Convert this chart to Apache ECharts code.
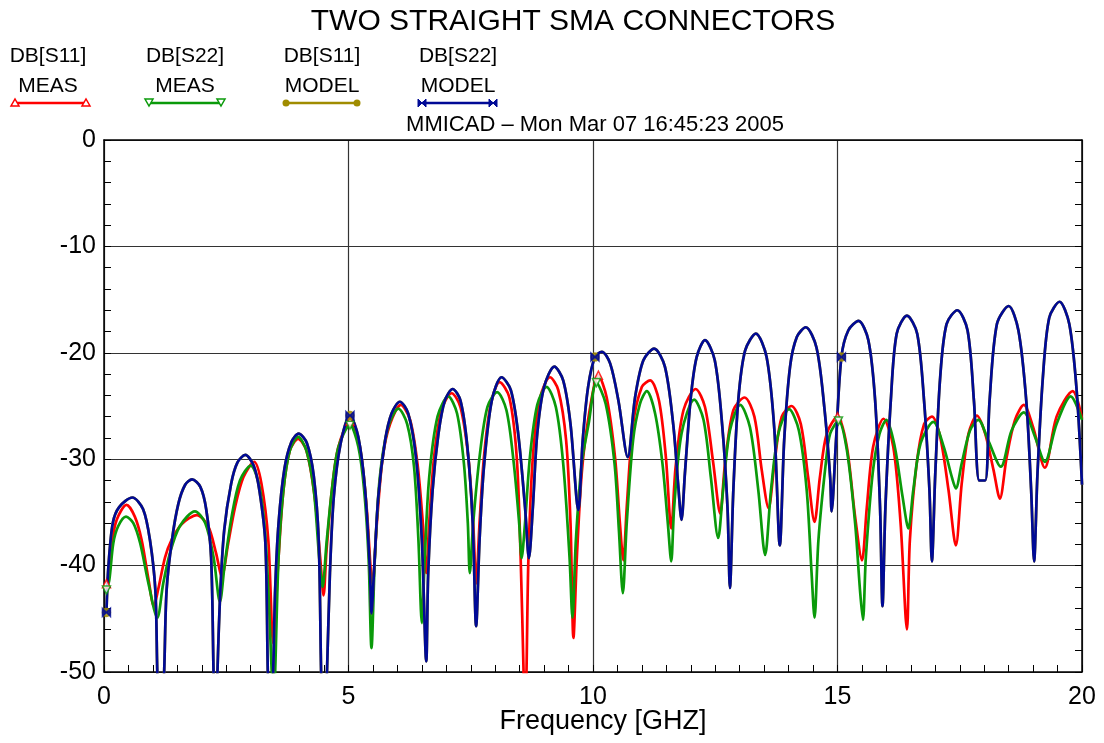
<!DOCTYPE html>
<html><head><meta charset="utf-8">
<script src="https://cdn.jsdelivr.net/npm/echarts@6/dist/echarts.min.js"></script>
<style>html,body{margin:0;padding:0;background:#fff}#c{width:1104px;height:743px}</style>
</head><body><div id="c"></div>
<script>
// ---- data (frequency GHz, dB) ----
const xTickValues = [0, 5, 10, 15, 20];
const yTickValues = [0, -10, -20, -30, -40, -50];
const seriesNames = ['DB[S11] MEAS', 'DB[S22] MEAS', 'DB[S11] MODEL', 'DB[S22] MODEL'];
const markerFreqs = [0.05, 5.08, 10.08, 15.08];

const s11Meas = [[0.05,-41.7],[0.09,-41.0],[0.16,-37.9],[0.26,-35.7],[0.46,-34.3],[0.63,-35.4],[0.77,-37.6],[0.91,-41.3],[1.02,-43.8],[1.11,-42.2],[1.25,-39.2],[1.38,-37.6],[1.59,-36.1],[1.9,-35.25],[2.13,-36.3],[2.29,-38.8],[2.41,-41.0],[2.54,-37.9],[2.68,-34.5],[2.85,-31.7],[3.07,-30.25],[3.22,-32.3],[3.36,-37.6],[3.46,-47.3],[3.57,-39.2],[3.67,-32.9],[3.8,-29.2],[3.97,-28.1],[4.14,-29.2],[4.31,-33.6],[4.42,-39.2],[4.49,-42.8],[4.55,-38.6],[4.66,-32.9],[4.79,-28.9],[5.03,-26.4],[5.23,-28.8],[5.37,-34.5],[5.49,-41.7],[5.58,-36.0],[5.7,-29.8],[5.85,-26.7],[6.07,-24.9],[6.26,-26.3],[6.41,-30.4],[6.52,-36.0],[6.59,-40.7],[6.65,-36.0],[6.75,-29.8],[6.9,-25.4],[7.11,-23.8],[7.29,-25.1],[7.45,-29.8],[7.55,-36.0],[7.61,-41.7],[7.68,-36.0],[7.77,-29.8],[7.91,-24.8],[8.09,-22.75],[8.29,-24.2],[8.44,-29.8],[8.52,-39.2],[8.58,-50],[8.61,-56],[8.64,-50],[8.68,-39.2],[8.77,-29.8],[8.92,-24.2],[9.12,-22.3],[9.29,-23.5],[9.45,-28.2],[9.54,-36.0],[9.6,-46.8],[9.67,-39.2],[9.77,-31.3],[9.91,-26.0],[10.11,-22.1],[10.28,-24.2],[10.45,-29.8],[10.55,-36.0],[10.62,-39.5],[10.69,-34.5],[10.82,-26.7],[11.0,-23.2],[11.17,-22.6],[11.35,-24.5],[11.49,-29.8],[11.6,-36.5],[11.69,-30.7],[11.85,-25.4],[12.1,-23.4],[12.29,-25.1],[12.46,-30.4],[12.6,-35.1],[12.7,-30.4],[12.87,-25.4],[13.1,-24.2],[13.3,-26.0],[13.45,-31.0],[13.59,-34.6],[13.71,-30.4],[13.86,-26.0],[14.06,-25.0],[14.25,-26.7],[14.4,-31.7],[14.53,-35.9],[14.64,-31.7],[14.78,-27.6],[15.0,-26.0],[15.19,-28.8],[15.36,-35.4],[15.5,-39.5],[15.6,-34.5],[15.73,-28.8],[15.94,-26.2],[16.14,-28.8],[16.29,-36.0],[16.42,-46.0],[16.48,-37.6],[16.62,-30.4],[16.77,-26.7],[16.93,-26.0],[17.1,-27.9],[17.27,-32.9],[17.42,-38.1],[17.54,-32.3],[17.68,-27.6],[17.85,-25.9],[18.02,-27.6],[18.19,-31.0],[18.32,-33.7],[18.46,-29.8],[18.63,-26.3],[18.81,-24.9],[19.0,-27.0],[19.24,-30.8],[19.48,-26.0],[19.81,-23.6],[20.0,-26.2]];

const s22Meas = [[0.05,-42.3],[0.11,-41.3],[0.19,-37.9],[0.29,-36.3],[0.45,-35.4],[0.6,-36.0],[0.74,-37.9],[0.91,-41.7],[1.09,-44.9],[1.21,-41.7],[1.35,-38.8],[1.55,-36.3],[1.86,-34.9],[2.07,-36.0],[2.24,-39.2],[2.37,-43.4],[2.47,-39.8],[2.61,-35.4],[2.78,-32.0],[3.0,-30.6],[3.18,-32.6],[3.31,-37.9],[3.43,-50],[3.46,-54],[3.5,-50],[3.57,-39.2],[3.67,-32.9],[3.8,-29.2],[3.97,-27.9],[4.14,-29.2],[4.29,-32.9],[4.4,-39.2],[4.47,-42.0],[4.55,-37.9],[4.66,-32.9],[4.79,-28.9],[5.03,-26.8],[5.2,-28.8],[5.32,-32.9],[5.41,-39.2],[5.47,-47.75],[5.54,-39.2],[5.64,-31.7],[5.81,-27.0],[6.02,-25.25],[6.2,-26.7],[6.34,-30.7],[6.43,-37.6],[6.5,-45.4],[6.56,-39.2],[6.65,-31.7],[6.82,-26.0],[7.04,-24.1],[7.22,-25.7],[7.36,-30.4],[7.44,-36.0],[7.48,-40.7],[7.55,-36.0],[7.68,-29.8],[7.84,-25.1],[8.04,-23.7],[8.23,-25.4],[8.38,-30.4],[8.49,-36.0],[8.54,-39.3],[8.61,-36.0],[8.71,-29.8],[8.86,-24.9],[9.05,-23.2],[9.24,-25.1],[9.39,-30.4],[9.52,-39.2],[9.58,-44.9],[9.65,-37.6],[9.77,-30.4],[9.91,-26.7],[10.07,-22.8],[10.26,-24.8],[10.44,-30.4],[10.53,-36.7],[10.61,-42.6],[10.69,-36.0],[10.82,-28.2],[10.96,-24.8],[11.1,-23.6],[11.27,-25.7],[11.42,-30.4],[11.53,-36.0],[11.6,-39.6],[11.66,-34.5],[11.81,-27.6],[12.07,-24.4],[12.26,-26.3],[12.41,-31.7],[12.56,-37.4],[12.66,-32.9],[12.8,-27.3],[13.01,-24.9],[13.21,-27.0],[13.38,-32.9],[13.52,-39.0],[13.64,-32.9],[13.79,-27.6],[14.01,-25.3],[14.21,-27.3],[14.37,-32.9],[14.47,-40.7],[14.53,-44.9],[14.61,-37.6],[14.76,-30.4],[14.85,-27.6],[15.02,-26.4],[15.19,-29.1],[15.36,-36.0],[15.46,-42.3],[15.52,-45.1],[15.58,-39.2],[15.72,-31.3],[15.86,-27.6],[16.0,-26.3],[16.17,-28.8],[16.33,-33.5],[16.45,-36.5],[16.55,-32.9],[16.7,-28.5],[16.96,-26.5],[17.17,-28.8],[17.34,-31.7],[17.42,-32.75],[17.54,-30.4],[17.71,-27.3],[17.88,-26.3],[18.08,-28.2],[18.34,-30.7],[18.56,-27.3],[18.81,-25.6],[19.04,-27.9],[19.24,-30.25],[19.48,-26.7],[19.77,-24.1],[20.0,-26.3]];

const s22Model = [[0.05,-44.4],[0.09,-40.1],[0.18,-36.0],[0.31,-34.5],[0.58,-33.6],[0.8,-34.7],[0.94,-37.6],[1.05,-42.3],[1.09,-50],[1.15,-58],[1.23,-50],[1.28,-42.3],[1.39,-37.6],[1.52,-34.2],[1.66,-32.4],[1.8,-31.9],[1.97,-32.6],[2.09,-34.7],[2.19,-39.2],[2.24,-50],[2.28,-58],[2.32,-50],[2.38,-42.3],[2.46,-36.6],[2.6,-32.3],[2.73,-30.3],[2.89,-29.6],[3.06,-30.6],[3.18,-33.0],[3.3,-37.9],[3.35,-50],[3.4,-58],[3.46,-50],[3.5,-42.3],[3.57,-36.0],[3.69,-30.9],[3.83,-28.4],[3.98,-27.6],[4.15,-28.5],[4.29,-31.6],[4.39,-37.6],[4.44,-50],[4.49,-58],[4.56,-50],[4.62,-40.7],[4.7,-33.5],[4.84,-28.5],[5.03,-25.9],[5.2,-27.9],[5.34,-32.9],[5.44,-40.7],[5.47,-44.5],[5.52,-40.7],[5.61,-33.5],[5.75,-28.2],[5.88,-25.7],[6.05,-24.6],[6.22,-25.7],[6.38,-29.8],[6.5,-37.6],[6.59,-49],[6.63,-40.7],[6.72,-32.9],[6.84,-27.6],[6.97,-24.5],[7.13,-23.4],[7.29,-24.5],[7.43,-28.8],[7.54,-36.0],[7.61,-45.7],[7.68,-37.6],[7.77,-30.7],[7.93,-24.5],[8.13,-22.3],[8.32,-23.5],[8.47,-27.6],[8.61,-34.5],[8.69,-39.3],[8.77,-34.5],[8.86,-27.6],[9.0,-23.2],[9.21,-21.3],[9.39,-22.6],[9.54,-26.7],[9.7,-34.8],[9.79,-28.2],[9.9,-23.2],[10.04,-20.4],[10.18,-19.9],[10.35,-21.0],[10.52,-24.5],[10.71,-29.8],[10.86,-24.2],[11.03,-20.7],[11.25,-19.6],[11.47,-21.3],[11.64,-26.7],[11.74,-32.3],[11.81,-35.7],[11.88,-31.3],[12.0,-24.2],[12.12,-20.4],[12.29,-18.8],[12.49,-20.7],[12.64,-26.7],[12.75,-34.5],[12.8,-42.1],[12.87,-32.9],[12.97,-24.5],[13.11,-19.8],[13.33,-18.2],[13.55,-20.4],[13.71,-27.3],[13.82,-38.1],[13.91,-28.2],[14.03,-21.3],[14.17,-18.5],[14.35,-17.6],[14.57,-19.5],[14.73,-25.1],[14.85,-31.7],[14.88,-34.9],[14.97,-28.2],[15.08,-20.4],[15.22,-17.9],[15.43,-17.0],[15.63,-18.8],[15.77,-24.5],[15.87,-34.5],[15.92,-43.8],[15.98,-34.5],[16.09,-24.5],[16.21,-18.2],[16.42,-16.5],[16.63,-18.2],[16.77,-24.5],[16.88,-32.9],[16.93,-39.6],[17.0,-31.3],[17.1,-22.3],[17.23,-17.3],[17.45,-16.0],[17.66,-17.9],[17.79,-24.5],[17.9,-32.0],[18.02,-32.0],[18.11,-24.5],[18.26,-17.3],[18.5,-15.6],[18.7,-17.9],[18.86,-24.5],[18.96,-32.9],[19.02,-39.6],[19.09,-31.3],[19.2,-22.3],[19.33,-16.7],[19.54,-15.2],[19.74,-17.3],[19.89,-23.5],[20.0,-32.4]];

// S11 model coincides with S22 model (hidden underneath it in the reference)
const s11Model = s22Model;

// ---- styling ----
const FONT = '"Liberation Sans", Arial, Helvetica, sans-serif';
const colors = ['#ff0000', '#0a9a0a', '#a08c00', '#000a96'];
const bowtie = 'path://M0 0L10 10L10 0L0 10Z';
const symbols = ['triangle', 'path://M0 0L10 0L5 10Z', 'circle', bowtie];
const symbolFills = ['#ffffff', '#ffffff', colors[2], colors[3]];
const dataSets = [s11Meas, s22Meas, s11Model, s22Model];

function nearest(arr, f) {
  let best = arr[0];
  for (const p of arr) if (Math.abs(p[0] - f) < Math.abs(best[0] - f)) best = p;
  return best;
}

const chart = echarts.init(document.getElementById('c'), null, {renderer: 'canvas'});

const lineSeries = dataSets.map((d, i) => ({
  name: seriesNames[i], type: 'line', data: d, showSymbol: false, symbol: 'none',
  smooth: 0.3, clip: true, silent: true, animation: false,
  lineStyle: {color: colors[i], width: 2.7}, z: 2 + i
}));
const markerSeries = dataSets.map((d, i) => ({
  type: 'scatter', data: markerFreqs.map(f => nearest(d, f)), symbol: symbols[i], symbolSize: 8,
  silent: true, animation: false, clip: false,
  itemStyle: {color: symbolFills[i], borderColor: colors[i], borderWidth: 1.5}, z: 10 + i
}));

// custom two-line legend
const legendItems = [
  {cx: 48, l1: 'DB[S11]', l2: 'MEAS', x1: 15, x2: 86},
  {cx: 185, l1: 'DB[S22]', l2: 'MEAS', x1: 149, x2: 221},
  {cx: 322, l1: 'DB[S11]', l2: 'MODEL', x1: 286, x2: 357},
  {cx: 458, l1: 'DB[S22]', l2: 'MODEL', x1: 422, x2: 493}
];
const gfx = [];
function marker(i, x, y) {
  const c = colors[i];
  if (i === 0) return {type: 'polygon', shape: {points: [[x-4,y+3],[x+4,y+3],[x,y-4]]}, style: {fill: '#fff', stroke: c, lineWidth: 1.5}};
  if (i === 1) return {type: 'polygon', shape: {points: [[x-4,y-4],[x+4,y-4],[x,y+3]]}, style: {fill: '#fff', stroke: c, lineWidth: 1.5}};
  if (i === 2) return {type: 'circle', shape: {cx: x, cy: y, r: 3.5}, style: {fill: c}};
  return {type: 'polygon', shape: {points: [[x-4,y-4],[x+4,y+4],[x+4,y-4],[x-4,y+4]]}, style: {fill: c, stroke: c, lineWidth: 1}};
}
legendItems.forEach((it, i) => {
  gfx.push({type: 'text', x: it.cx, y: 56, style: {text: it.l1, font: '21px ' + FONT, fill: '#000', textAlign: 'center', textVerticalAlign: 'middle'}});
  gfx.push({type: 'text', x: it.cx, y: 86, style: {text: it.l2, font: '21px ' + FONT, fill: '#000', textAlign: 'center', textVerticalAlign: 'middle'}});
  gfx.push({type: 'line', shape: {x1: it.x1, y1: 103, x2: it.x2, y2: 103}, style: {stroke: colors[i], lineWidth: 2.5}});
  gfx.push(marker(i, it.x1, 103));
  gfx.push(marker(i, it.x2, 103));
});
gfx.push({type: 'text', x: 573, y: 22, style: {text: 'TWO STRAIGHT SMA CONNECTORS', font: '30px ' + FONT, fill: '#000', textAlign: 'center', textVerticalAlign: 'middle'}});
gfx.push({type: 'text', x: 595, y: 125, style: {text: 'MMICAD \u2013 Mon Mar 07 16:45:23 2005', font: '22px ' + FONT, fill: '#000', textAlign: 'center', textVerticalAlign: 'middle'}});
gfx.push({type: 'text', x: 603, y: 722, style: {text: 'Frequency [GHZ]', font: '27px ' + FONT, fill: '#000', textAlign: 'center', textVerticalAlign: 'middle'}});

const baseAxisLine = {show: true, onZero: false, lineStyle: {color: '#000', width: 1.5}};
const tickStyle = {show: true, inside: true, length: 7, lineStyle: {color: '#000', width: 1}};
const minorStyle = {show: true, length: 7, lineStyle: {color: '#000', width: 1}};

chart.setOption({
  animation: false,
  backgroundColor: '#fff',
  grid: {left: 104, right: 22, top: 140, bottom: 71, containLabel: false},
  xAxis: [
    {type: 'value', min: 0, max: 20, interval: 5, position: 'bottom',
     axisLine: baseAxisLine, axisTick: tickStyle, minorTick: Object.assign({splitNumber: 10}, minorStyle),
     splitLine: {show: true, lineStyle: {color: '#333', width: 1.2}},
     axisLabel: {color: '#000', fontSize: 25, fontFamily: FONT, margin: 13,
       formatter: v => xTickValues.includes(v) ? String(v) : ''}},
    {type: 'value', min: 0, max: 20, interval: 5, position: 'top',
     axisLine: baseAxisLine, axisTick: {show: false}, axisLabel: {show: false}, splitLine: {show: false}}
  ],
  yAxis: [
    {type: 'value', min: -50, max: 0, interval: 10, position: 'left',
     axisLine: baseAxisLine, axisTick: tickStyle, minorTick: Object.assign({splitNumber: 5}, minorStyle),
     splitLine: {show: true, lineStyle: {color: '#333', width: 1.2}},
     axisLabel: {color: '#000', fontSize: 25, fontFamily: FONT, margin: 8,
       formatter: v => yTickValues.includes(v) ? String(v) : ''}},
    {type: 'value', min: -50, max: 0, interval: 10, position: 'right',
     axisLine: baseAxisLine, axisTick: tickStyle, minorTick: Object.assign({splitNumber: 5}, minorStyle),
     axisLabel: {show: false}, splitLine: {show: false}}
  ],
  series: lineSeries.concat(markerSeries),
  graphic: gfx
});
</script>
</body></html>
